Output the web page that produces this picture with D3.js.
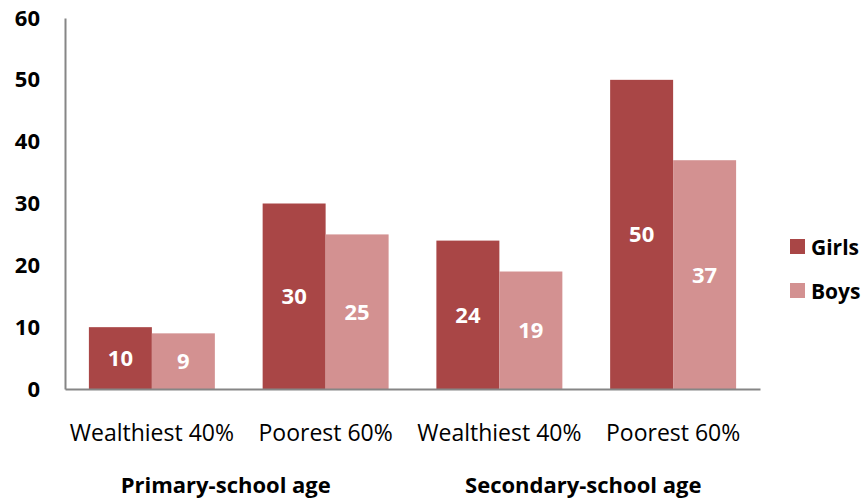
<!DOCTYPE html>
<html>
<head>
<meta charset="utf-8">
<script src="https://cdn.jsdelivr.net/npm/d3@7"></script>
<style>
  body { margin: 0; background: #fff; }
  svg { display: block; }
  svg text { font-family: 'Open Sans', sans-serif; }
</style>
</head>
<body>
<svg id="chart" width="865" height="499"></svg>
<script>
const categories = ['Wealthiest 40%', 'Poorest 60%', 'Wealthiest 40%', 'Poorest 60%'];
const groups = ['Primary-school age', 'Secondary-school age'];
const series = ['Girls', 'Boys'];
const girls = [10, 30, 24, 50];
const boys = [9, 25, 19, 37];
const yTicks = [0, 10, 20, 30, 40, 50, 60];

const colors = { Girls: '#A94646', Boys: '#D39191' };

const svg = d3.select('#chart');
const margin = { top: 18, left: 65, right: 105, bottom: 110 };
const width = 865, height = 499;
const plotRight = width - margin.right;
const baseline = height - margin.bottom;

const x = d3.scaleBand()
  .domain(d3.range(categories.length))
  .range([margin.left, plotRight])
  .paddingInner(0.275)
  .paddingOuter(0.1375);

const xInner = d3.scaleBand().domain(series).range([0, x.bandwidth()]);

const y = d3.scaleLinear().domain([0, 60]).range([baseline, margin.top]);

const rows = categories.map((c, i) => ({ i, Girls: girls[i], Boys: boys[i] }));

// bars
const barGroups = svg.append('g')
  .selectAll('g')
  .data(rows)
  .join('g')
  .attr('transform', (d) => `translate(${x(d.i)},0)`);

barGroups.selectAll('rect')
  .data((d) => series.map((s) => ({ s, v: d[s] })))
  .join('rect')
  .attr('x', (d) => xInner(d.s))
  .attr('y', (d) => y(d.v))
  .attr('width', xInner.bandwidth())
  .attr('height', (d) => baseline - y(d.v))
  .attr('fill', (d) => colors[d.s]);

barGroups.selectAll('text')
  .data((d) => series.map((s) => ({ s, v: d[s] })))
  .join('text')
  .attr('x', (d) => xInner(d.s) + xInner.bandwidth() / 2)
  .attr('y', (d) => (y(d.v) + baseline) / 2)
  .attr('dy', '0.36em')
  .attr('text-anchor', 'middle')
  .attr('fill', '#fff')
  .attr('font-weight', 'bold')
  .attr('font-size', 22)
  .text((d) => d.v);

// y axis
const yAxis = svg.append('g')
  .attr('transform', `translate(${margin.left},0)`)
  .call(d3.axisLeft(y).tickValues(yTicks).tickSize(0).tickPadding(25));
yAxis.attr('font-family', null);
yAxis.select('.domain').attr('stroke', '#868686').attr('stroke-width', 2);
yAxis.selectAll('text')
  .attr('font-size', 22)
  .attr('font-weight', 'bold')
  .attr('fill', '#000');

// x axis
const xAxis = svg.append('g')
  .attr('transform', `translate(0,${baseline})`)
  .call(d3.axisBottom(x).tickFormat((i) => categories[i]).tickSize(0).tickPadding(36).tickSizeOuter(0));
xAxis.attr('font-family', null);
xAxis.select('.domain').attr('stroke', '#868686').attr('stroke-width', 2);
xAxis.selectAll('text')
  .attr('font-size', 23)
  .attr('fill', '#000');

// group labels
const groupShift = [-13, -3];
svg.append('g')
  .selectAll('text')
  .data(groups)
  .join('text')
  .attr('x', (d, gi) => (x(gi * 2) + x(gi * 2 + 1) + x.bandwidth()) / 2 + groupShift[gi])
  .attr('y', 485)
  .attr('dy', '0.36em')
  .attr('text-anchor', 'middle')
  .attr('font-weight', 'bold')
  .attr('font-size', 22)
  .text((d) => d);

// legend
const legend = svg.append('g')
  .attr('transform', 'translate(790,239)')
  .selectAll('g')
  .data(series)
  .join('g')
  .attr('transform', (d, i) => `translate(0,${i * 44})`);
legend.append('rect').attr('width', 15).attr('height', 15).attr('fill', (d) => colors[d]);
legend.append('text')
  .attr('x', 21)
  .attr('y', 8)
  .attr('dy', '0.36em')
  .attr('font-weight', 'bold')
  .attr('font-size', 21)
  .text((d) => d);
</script>
</body>
</html>
